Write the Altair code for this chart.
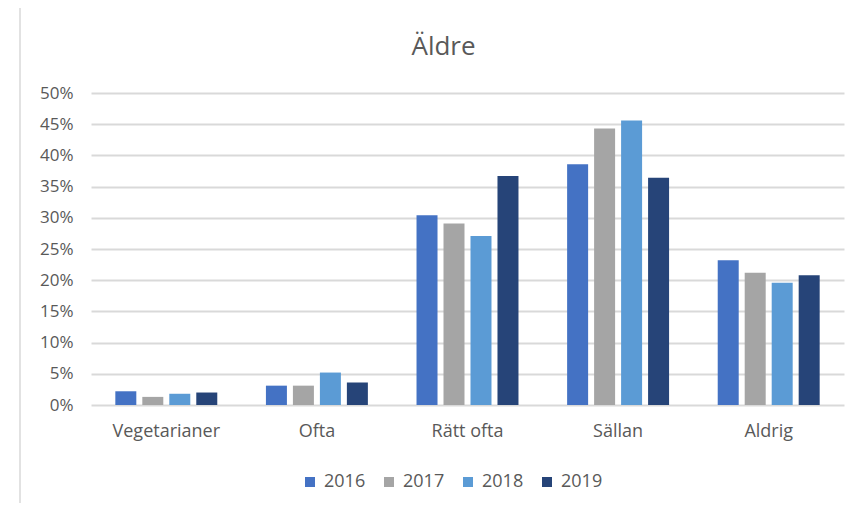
import altair as alt
import pandas as pd

categories = ["Vegetarianer", "Ofta", "Rätt ofta", "Sällan", "Aldrig"]
years = ["2016", "2017", "2018", "2019"]
vals_2016 = [2.2, 3.1, 30.4, 38.6, 23.2]
vals_2017 = [1.3, 3.1, 29.1, 44.3, 21.2]
vals_2018 = [1.8, 5.2, 27.1, 45.6, 19.6]
vals_2019 = [2.0, 3.6, 36.7, 36.4, 20.8]
colors = ["#4472C4", "#A5A5A5", "#5B9BD5", "#264478"]

series = {"2016": vals_2016, "2017": vals_2017, "2018": vals_2018, "2019": vals_2019}
rows = []
for y in years:
    for c, v in zip(categories, series[y]):
        rows.append({"kategori": c, "år": y, "andel": v / 100})
df = pd.DataFrame(rows)

FONT = "Open Sans"
TXT = "#595959"
GRID = "#D9D9D9"

bars = alt.Chart(df).mark_bar().encode(
    x=alt.X("kategori:N", sort=categories, title=None,
            scale=alt.Scale(paddingInner=0.323, paddingOuter=0.1615),
            axis=alt.Axis(labelAngle=0, ticks=False, domain=False, labelPadding=17,
                          labelFontSize=18, labelColor=TXT, labelFont=FONT)),
    xOffset=alt.XOffset("år:N", sort=years,
                        scale=alt.Scale(paddingInner=0.222, paddingOuter=0)),
    y=alt.Y("andel:Q", title=None,
            scale=alt.Scale(domain=[0, 0.5]),
            axis=alt.Axis(format=".0%", values=[i / 100 for i in range(0, 51, 5)],
                          ticks=False, domain=False, labelPadding=18,
                          labelFontSize=17, labelColor=TXT, labelFont=FONT,
                          grid=True, gridColor=GRID, gridWidth=2)),
    color=alt.Color("år:N", sort=years, title=None,
                    scale=alt.Scale(domain=years, range=colors),
                    legend=alt.Legend(orient="none", direction="horizontal",
                                      legendX=210, legendY=380,
                                      symbolType="square", symbolSize=100,
                                      symbolStrokeWidth=0, labelFontSize=18,
                                      labelColor=TXT, labelFont=FONT,
                                      columnPadding=14, symbolOffset=0,
                                      labelOffset=5)),
)

frame = alt.Chart(pd.DataFrame({"a": [0]})).mark_rule(color=GRID, strokeWidth=1.5).encode(
    x=alt.value(-71), y=alt.value(-87), y2=alt.value(420)
)

chart = alt.layer(frame, bars).properties(
    width=753, height=312,
    title=alt.TitleParams("Äldre", fontSize=26, font=FONT, color=TXT,
                          fontWeight="normal", anchor="middle", dx=-24, offset=-55),
    autosize=alt.AutoSizeParams(type="none"),
    padding={"left": 83, "top": 85, "right": 3, "bottom": 98},
).configure_view(stroke=None)

chart.save("out.html", embed_options={"renderer": "svg", "actions": False})
